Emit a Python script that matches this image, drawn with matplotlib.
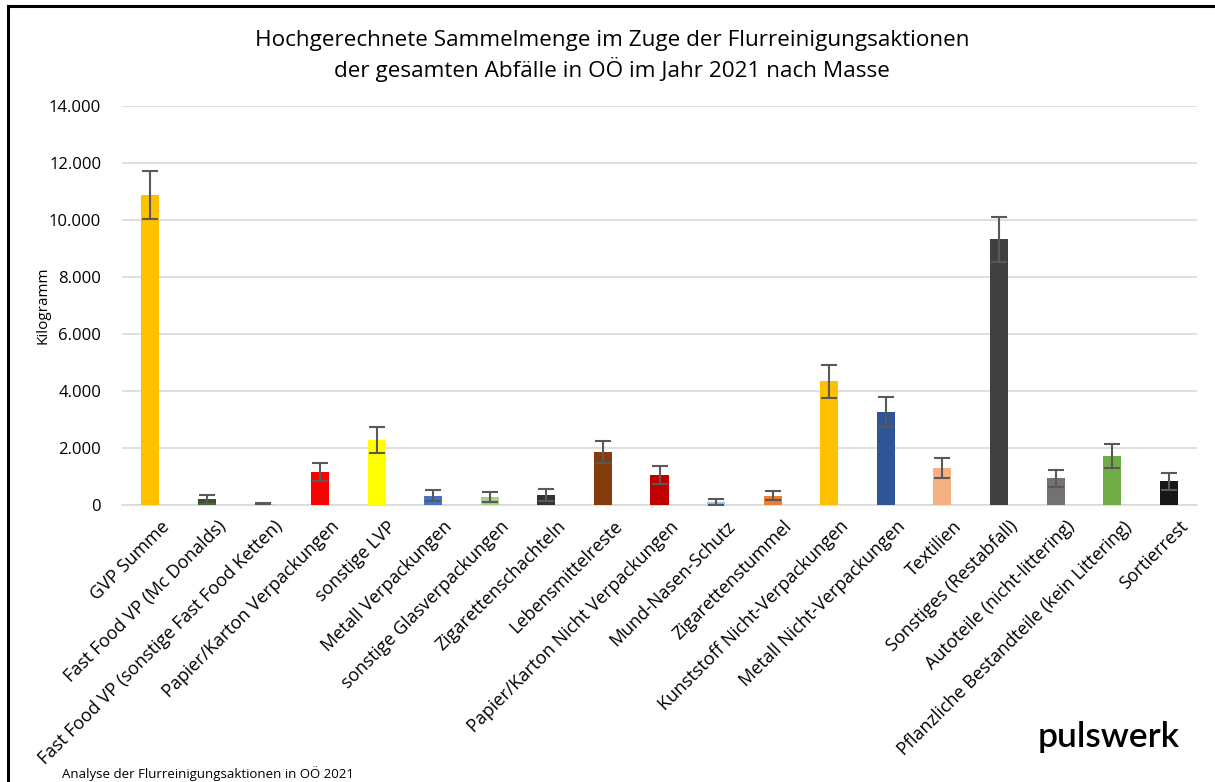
import matplotlib
matplotlib.use("Agg")
import matplotlib.pyplot as plt
from matplotlib.ticker import FuncFormatter
from matplotlib.lines import Line2D
import matplotlib.transforms as mtransforms
import numpy as np

categories = [
    "GVP Summe",
    "Fast Food VP (Mc Donalds)",
    "Fast Food VP (sonstige Fast Food Ketten)",
    "Papier/Karton Verpackungen",
    "sonstige LVP",
    "Metall Verpackungen",
    "sonstige Glasverpackungen",
    "Zigarettenschachteln",
    "Lebensmittelreste",
    "Papier/Karton Nicht Verpackungen",
    "Mund-Nasen-Schutz",
    "Zigarettenstummel",
    "Kunststoff Nicht-Verpackungen",
    "Metall Nicht-Verpackungen",
    "Textilien",
    "Sonstiges (Restabfall)",
    "Autoteile (nicht-littering)",
    "Pflanzliche Bestandteile (kein Littering)",
    "Sortierrest",
]
values = [10880, 200, 50, 1150, 2290, 330, 270, 350, 1860, 1050,
          100, 330, 4340, 3260, 1300, 9330, 940, 1720, 830]
errors = [840, 150, 20, 310, 450, 180, 180, 210, 400, 330,
          100, 170, 580, 520, 360, 790, 300, 410, 300]
colors = ["#FFC000", "#375623", "#BFBFBF", "#FF0000", "#FFFF00", "#4472C4",
          "#A9D18E", "#333333", "#843C0C", "#C00000", "#9DC3E6", "#ED7D31",
          "#FFC000", "#2F5597", "#F4B183", "#404040", "#767171", "#70AD47",
          "#171717"]
yticks = [0, 2000, 4000, 6000, 8000, 10000, 12000, 14000]

FONT = "Open Sans"
plt.rcParams["font.family"] = [FONT, "DejaVu Sans"]

fig = plt.figure(figsize=(12.15, 7.82), dpi=100)
ax = fig.add_axes([122/1215, 1-505/782, (1197-122)/1215, (505-106)/782])

x = np.arange(len(categories))
ax.bar(x, values, width=0.32, color=colors, zorder=3)
ax.errorbar(x, values, yerr=errors, fmt="none", ecolor="#595959",
            elinewidth=1.5, capsize=6, capthick=1.5, zorder=4)

ax.set_xlim(-0.5, len(categories) - 0.5)
ax.set_ylim(0, 14000)
ax.set_yticks(yticks)
ax.yaxis.set_major_formatter(FuncFormatter(lambda v, p: f"{int(v):,}".replace(",", ".")))
ax.grid(axis="y", color="#D9D9D9", linewidth=1.2, zorder=0)
ax.set_axisbelow(True)
for s in ["top", "right", "left"]:
    ax.spines[s].set_visible(False)
ax.spines["bottom"].set_color("#D9D9D9")
ax.spines["bottom"].set_linewidth(1.2)
ax.tick_params(axis="both", length=0, colors="black")
ax.tick_params(axis="y", pad=15, labelsize=12)
ax.set_xticks(x)
ax.set_xticklabels(categories, rotation=45, ha="right", rotation_mode="anchor",
                   fontsize=13)
ax.tick_params(axis="x", pad=9)
offset = mtransforms.ScaledTranslation(10/100, 0, fig.dpi_scale_trans)
for lbl in ax.get_xticklabels():
    lbl.set_transform(lbl.get_transform() + offset)
ax.set_ylabel("Kilogramm", fontsize=11)
ax.yaxis.set_label_coords(-(122 - 50) / 1075, 0.5)

fig.text(612/1215, 1-56/782,
         "Hochgerechnete Sammelmenge im Zuge der Flurreinigungsaktionen\nder gesamten Abfälle in OÖ im Jahr 2021 nach Masse",
         ha="center", va="center", fontsize=16.2, linespacing=1.3)

fig.text(1038/1215, 1-737/782, "pulswerk", ha="left", va="center",
         fontsize=25.5, family=["Lato", "DejaVu Sans"], weight="semibold", color="black")
fig.text(62/1215, 1-774/782, "Analyse der Flurreinigungsaktionen in OÖ 2021",
         ha="left", va="center", fontsize=9.5)

fig.add_artist(Line2D([8/1215, 8/1215], [0, 1-6/782], color="black", linewidth=2.2,
                      transform=fig.transFigure))
fig.add_artist(Line2D([8/1215, 1.0], [1-6/782, 1-6/782], color="black", linewidth=2.2,
                      transform=fig.transFigure))

fig.savefig("out.png", dpi=100)
